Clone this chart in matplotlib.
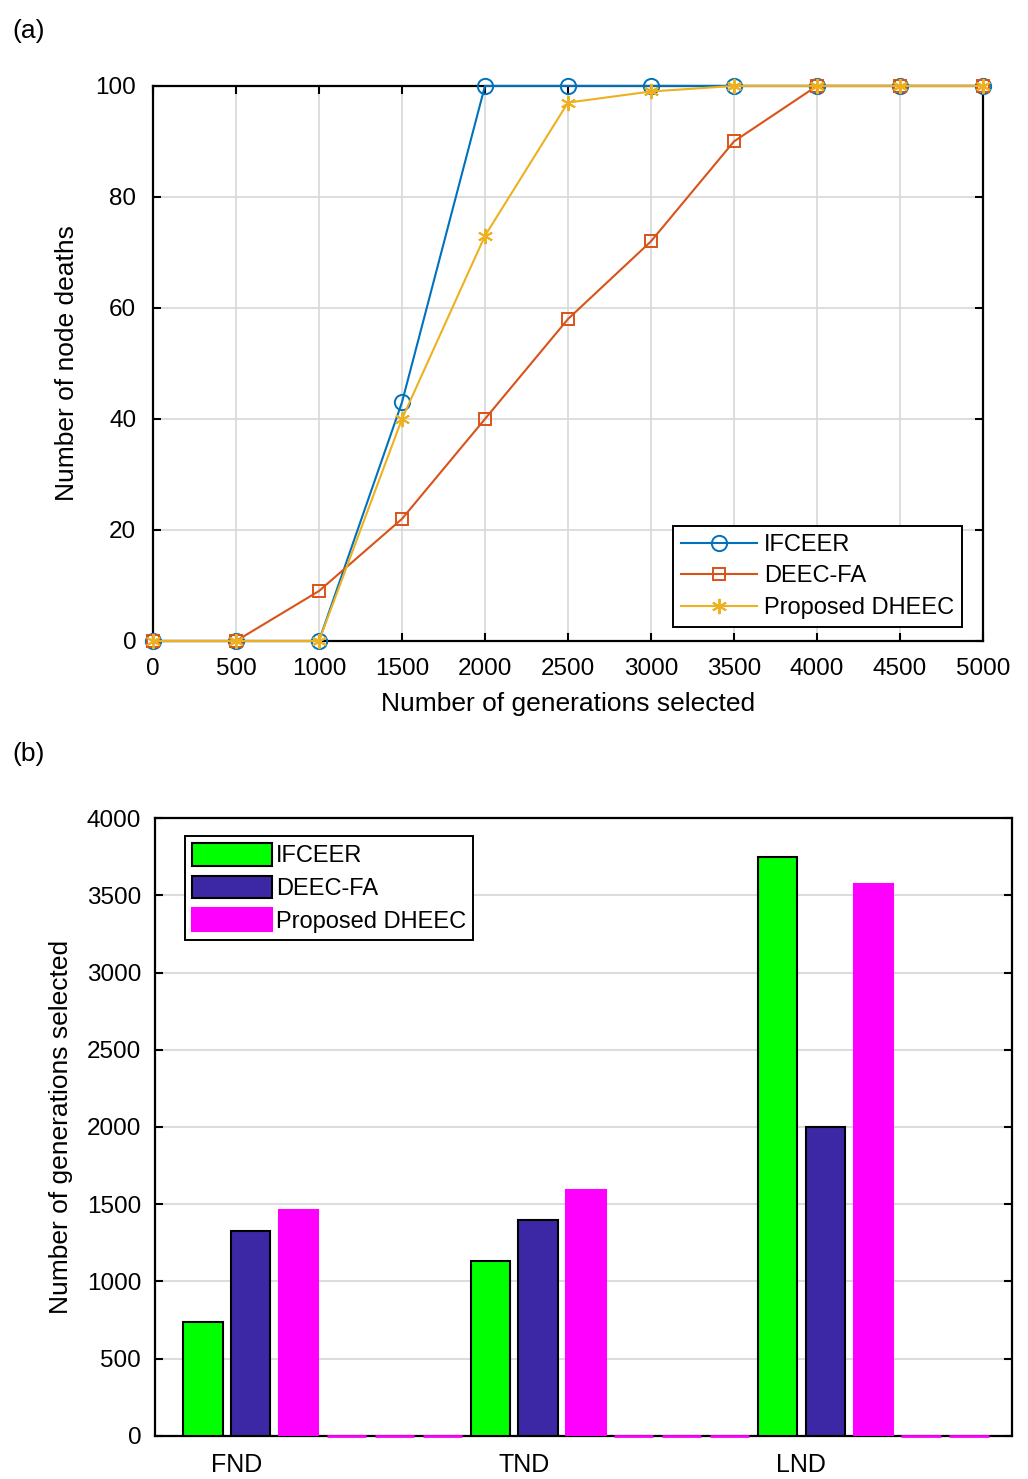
import numpy as np
import matplotlib
matplotlib.use("Agg")
from matplotlib import pyplot as plt
from matplotlib.patches import Patch

plt.rcParams['font.family'] = ['Liberation Sans', 'DejaVu Sans']

# ---------------- data ----------------
gens = [0, 500, 1000, 1500, 2000, 2500, 3000, 3500, 4000, 4500, 5000]
ifceer_deaths = [0, 0, 0, 43, 100, 100, 100, 100, 100, 100, 100]
deecfa_deaths = [0, 0, 9, 22, 40, 58, 72, 90, 100, 100, 100]
dheec_deaths = [0, 0, 0, 40, 73, 97, 99, 100, 100, 100, 100]

stages = ['FND', 'TND', 'LND']
ifceer_gen = [740, 1130, 3750]
deecfa_gen = [1330, 1400, 2000]
dheec_gen = [1460, 1590, 3570]
pad_gen = [0, 0, 0]          # empty slots after each group

c_blue = '#0072BD'
c_red = '#D95319'
c_yel = '#EDB120'

fig = plt.figure(figsize=(10.28, 14.79), dpi=100)

##################### (a) node deaths #####################
ax1 = fig.add_axes([0.1488, 0.5666, 0.8074, 0.3753])
asterisk = (6, 2, 0)
ax1.plot(gens, ifceer_deaths, color=c_blue, lw=1.5, marker='o', ms=11,
         mfc='none', mec=c_blue, mew=1.4, label='IFCEER', zorder=3, clip_on=False)
ax1.plot(gens, deecfa_deaths, color=c_red, lw=1.5, marker='s', ms=8.5,
         mfc='none', mec=c_red, mew=1.4, label='DEEC-FA', zorder=3, clip_on=False)
ax1.plot(gens, dheec_deaths, color=c_yel, lw=1.5, marker=asterisk, ms=11,
         mec=c_yel, mew=1.4, label='Proposed DHEEC', zorder=3, clip_on=False)

ax1.set_xlim(0, 5000)
ax1.set_ylim(0, 100)
ax1.set_xticks(np.arange(0, 5001, 500))
ax1.set_yticks(np.arange(0, 101, 20))
ax1.grid(True, color='#d8d8d8', lw=1.2)
ax1.set_axisbelow(True)
ax1.tick_params(direction='in', length=6, width=1.5, top=True, right=True,
                labelsize=17.5, pad=12)
for s in ax1.spines.values():
    s.set_linewidth(1.6)
ax1.set_xlabel('Number of generations selected', fontsize=19, labelpad=9)
ax1.set_ylabel('Number of node deaths', fontsize=19, labelpad=12)
leg1 = ax1.legend(loc='lower right', bbox_to_anchor=(0.975, 0.025), borderaxespad=0,
                  fontsize=17, frameon=True, fancybox=False, edgecolor='black',
                  framealpha=1, handlelength=3.2, handletextpad=0.3,
                  labelspacing=0.4, borderpad=0.35)
leg1.get_frame().set_linewidth(1.4)

fig.text(0.012, 0.987, '(a)', fontsize=19, va='top', ha='left')

##################### (b) generations per stage #####################
ax2 = fig.add_axes([0.1508, 0.0291, 0.8337, 0.4178])
step = 6
grp = np.arange(len(stages)) * step
w = 0.82
xmax = 16.9
ax2.bar(grp + 0, ifceer_gen, w, color='#00FF00', edgecolor='black', lw=1.5, zorder=3)
ax2.bar(grp + 1, deecfa_gen, w, color='#3C28A5', edgecolor='black', lw=1.5, zorder=3)
ax2.bar(grp + 2, dheec_gen, w, color='#FF00FF', edgecolor='#FF00FF', lw=1.5, zorder=3)
for k in (3, 4, 5):
    bars = ax2.bar(grp + k, pad_gen, w, color='#FF00FF', edgecolor='#FF00FF',
                   lw=2.0, zorder=4)
    for b in bars:
        if b.get_x() + b.get_width() <= xmax:
            b.set_clip_on(False)
        else:
            b.set_visible(False)

ax2.set_xlim(-1.0, xmax)
ax2.set_ylim(0, 4000)
ax2.set_yticks(np.arange(0, 4001, 500))
ax2.yaxis.grid(True, color='#dcdcdc', lw=1.5)
ax2.set_axisbelow(True)
ax2.tick_params(axis='y', direction='in', length=6, width=1.5, right=True,
                labelsize=17.5, pad=10)
ax2.set_xticks(grp + np.array([0.7, 0.7, 0.5]))
ax2.set_xticklabels(stages)
ax2.tick_params(axis='x', length=0, labelsize=18, pad=12)
for s in ax2.spines.values():
    s.set_linewidth(1.6)
ax2.set_ylabel('Number of generations selected', fontsize=19, labelpad=10)

handles = [Patch(facecolor='#00FF00', edgecolor='black', lw=1.5),
           Patch(facecolor='#3C28A5', edgecolor='black', lw=1.5),
           Patch(facecolor='#FF00FF', edgecolor='#FF00FF', lw=1.5)]
leg2 = ax2.legend(handles, ['IFCEER', 'DEEC-FA', 'Proposed DHEEC'],
                  loc='upper left', bbox_to_anchor=(0.035, 0.971),
                  borderaxespad=0, fontsize=17, frameon=True, fancybox=False,
                  edgecolor='black', framealpha=1, handlelength=3.4,
                  handleheight=1.1, handletextpad=0.15, labelspacing=0.35,
                  borderpad=0.3)
leg2.get_frame().set_linewidth(1.4)

fig.text(0.012, 0.498, '(b)', fontsize=19, va='top', ha='left')

plt.savefig('out.png', dpi=100)
